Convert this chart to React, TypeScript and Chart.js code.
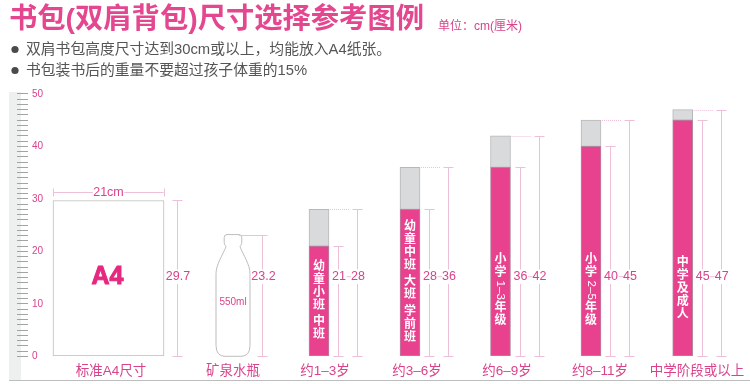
import React, { useEffect, useRef } from "react";
import { Chart, registerables, CategoryScale } from "chart.js";

const chartTitle = "书包(双肩背包)尺寸选择参考图例";
const unitNote = "单位：cm(厘米)";
const notes = ["双肩书包高度尺寸达到30cm或以上，均能放入A4纸张。", "书包装书后的重量不要超过孩子体重的15%"];
const categories = ["标准A4尺寸", "矿泉水瓶", "约1–3岁", "约3–6岁", "约6–9岁", "约8–11岁", "中学阶段或以上"];
const a4Height = 29.7;
const a4Width = 21;
const bottleHeight = 23.2;
const bottleVolume = "550ml";
const minHeights = [21, 28, 36, 40, 45];
const maxHeights = [28, 36, 42, 45, 47];
const barNotes = [
  [["幼", "童", "小", "班"], ["中", "班"]],
  [["幼", "童", "中", "班"], ["大", "班"], ["学", "前", "班"]],
  [["小", "学", "1–3", "年", "级"]],
  [["小", "学", "2–5", "年", "级"]],
  [["中", "学", "及", "成", "人"]],
];
const barNoteCentres = [10.6, 14.2, 12.6, 12.6, 12.9];

// uneven layout of the categories along the baseline (canvas pixels)
const markCentres = [108.5, 233, 319, 410, 500.5, 591, 682.7];
const labelCentres = [111, 233, 325, 417, 507, 600, 697];

const PINK = "#E8428F";
const TEXT_PINK = "#D9438C";
const LINE_PINK = "#EDBFD9";
const FONT = '"Liberation Sans","Noto Sans CJK SC",sans-serif';

class SlotScale extends CategoryScale {
  static id = "slot";
  static defaults = CategoryScale.defaults;
  getPixelForValue(value: any) {
    const i = typeof value === "number" ? value : (this as any).parse(value);
    return markCentres[i];
  }
  getPixelForTick(index: number) {
    return labelCentres[index];
  }
}

Chart.register(...registerables, SlotScale as any);

const annotate = {
  id: "annotate",
  beforeDraw(chart: any) {
    const { ctx } = chart;
    ctx.save();
    ctx.fillStyle = "#EEEFEF";
    ctx.fillRect(9, 92, 12, 288);
    ctx.fillStyle = "#BDBDBD";
    ctx.fillRect(9, 380, 741, 1);
    ctx.restore();
  },
  afterDraw(chart: any) {
    const { ctx, scales } = chart;
    const y = scales.y;
    const base = y.getPixelForValue(0);
    const line = (x0: number, y0: number, x1: number, y1: number) => {
      ctx.beginPath();
      ctx.moveTo(x0, y0);
      ctx.lineTo(x1, y1);
      ctx.stroke();
    };
    const bracket = (x: number, top: number) => {
      const c = Math.round(x) + 0.5;
      const t = Math.round(top) + 0.5;
      const b = Math.round(base) + 0.5;
      line(c, t, c, b);
      line(c - 5, t, c + 5, t);
      line(c - 5, b, c + 5, b);
    };
    const label = (text: string, x: number, yy: number, size = 12.5) => {
      ctx.font = `${size}px ${FONT}`;
      const w = ctx.measureText(text).width;
      ctx.fillStyle = "#fff";
      ctx.fillRect(x - w / 2 - 0.5, yy - size / 2 - 1, w + 1, size + 2);
      ctx.fillStyle = TEXT_PINK;
      ctx.fillText(text, x, yy);
    };

    ctx.save();
    ctx.textAlign = "left";
    ctx.textBaseline = "middle";
    ctx.fillStyle = TEXT_PINK;
    ctx.font = `12px ${FONT}`;
    ctx.fillText(unitNote, 438, 27);
    notes.forEach((n, i) => {
      const yy = 49.5 + i * 21;
      ctx.fillStyle = "#4A4A4A";
      ctx.beginPath();
      ctx.arc(15, yy, 3.6, 0, Math.PI * 2);
      ctx.fill();
      ctx.fillStyle = "#555";
      ctx.font = `14.8px ${FONT}`;
      ctx.fillText(n, 26, yy);
    });

    ctx.textAlign = "center";
    ctx.lineWidth = 1;
    const midY = 276.7;

    // A4 sheet
    const a4 = chart.getDatasetMeta(0).data[0];
    ctx.strokeStyle = LINE_PINK;
    const a4Half = (y.getPixelForValue(0) - y.getPixelForValue(a4Width)) / 2;
    const a4Y = 192.5;
    line(a4.x - a4Half, a4Y, a4.x + a4Half, a4Y);
    line(Math.round(a4.x - a4Half) + 0.5, a4Y - 4, Math.round(a4.x - a4Half) + 0.5, a4Y + 4);
    line(Math.round(a4.x + a4Half) + 0.5, a4Y - 4, Math.round(a4.x + a4Half) + 0.5, a4Y + 4);
    label(`${a4Width}cm`, a4.x, a4Y);
    bracket(a4.x + 68, a4.y);
    label(String(a4Height), a4.x + 69.5, midY);
    ctx.font = `bold 25px ${FONT}`;
    ctx.fillStyle = "#E6287F";
    ctx.strokeStyle = "#E6287F";
    ctx.fillText("A4", a4.x - 1, midY);
    ctx.strokeText("A4", a4.x - 1, midY);

    // bottle
    const bottle = chart.getDatasetMeta(1).data[1];
    const cx = bottle.x;
    const top = bottle.y;
    const bot = base;
    ctx.strokeStyle = "#BDBDBD";
    ctx.beginPath();
    ctx.moveTo(cx - 6, top);
    ctx.quadraticCurveTo(cx - 8.8, top, cx - 8.8, top + 3);
    ctx.lineTo(cx - 8.8, top + 8);
    ctx.quadraticCurveTo(cx - 8.8, top + 10, cx - 7, top + 12);
    ctx.bezierCurveTo(cx - 10, top + 20, cx - 17, top + 30, cx - 17, top + 39);
    ctx.lineTo(cx - 17, bot - 11);
    ctx.quadraticCurveTo(cx - 17, bot, cx - 8, bot);
    ctx.lineTo(cx + 8, bot);
    ctx.quadraticCurveTo(cx + 17, bot, cx + 17, bot - 11);
    ctx.lineTo(cx + 17, top + 39);
    ctx.bezierCurveTo(cx + 17, top + 30, cx + 10, top + 20, cx + 7, top + 12);
    ctx.quadraticCurveTo(cx + 8.8, top + 10, cx + 8.8, top + 8);
    ctx.lineTo(cx + 8.8, top + 3);
    ctx.quadraticCurveTo(cx + 8.8, top, cx + 6, top);
    ctx.closePath();
    ctx.stroke();
    ctx.strokeStyle = LINE_PINK;
    line(cx + 6, Math.round(top) + 0.5, cx + 28, Math.round(top) + 0.5);
    bracket(cx + 28.5, top);
    label(String(bottleHeight), cx + 30.5, midY);
    ctx.fillStyle = TEXT_PINK;
    ctx.font = `10px ${FONT}`;
    ctx.fillText(bottleVolume, cx, 302);

    // age-group bars
    const upperMeta = chart.getDatasetMeta(3).data;
    const lowerMeta = chart.getDatasetMeta(2).data;
    minHeights.forEach((min, k) => {
      const i = k + 2;
      const lo = lowerMeta[i];
      const up = upperMeta[i];
      const innerX = lo.x + 19;
      const outerX = lo.x + 38;
      ctx.strokeStyle = LINE_PINK;
      bracket(innerX, lo.y);
      bracket(outerX, up.y);
      ctx.setLineDash([1, 1]);
      const ty = Math.round(up.y) + 0.5;
      line(lo.x + 11, ty, outerX - 8, ty);
      ctx.setLineDash([]);
      label(String(min), innerX + 1, midY);
      label(String(maxHeights[k]), outerX + 1, midY);
      line(innerX + 8.5, midY, outerX - 6, midY);

      // vertical label inside the bar
      ctx.fillStyle = "#fff";
      ctx.font = `bold 12px ${FONT}`;
      const pitch = 13;
      const gap = 3.5;
      const groups = barNotes[k];
      const sizes = groups.map((g) =>
        g.map((t) => (t.length > 1 ? ctx.measureText(t).width + 2 : pitch))
      );
      const total =
        sizes.reduce((s, g) => s + g.reduce((a, b) => a + b, 0), 0) + gap * (groups.length - 1);
      let cursor = y.getPixelForValue(barNoteCentres[k]) - total / 2;
      groups.forEach((g, gi) => {
        g.forEach((t, ti) => {
          const h = sizes[gi][ti];
          const c = cursor + h / 2;
          if (t.length > 1) {
            ctx.save();
            ctx.font = `11.5px ${FONT}`;
            ctx.translate(lo.x, c);
            ctx.rotate(Math.PI / 2);
            ctx.fillText(t, 0, 0);
            ctx.restore();
          } else {
            ctx.fillText(t, lo.x, c);
          }
          cursor += h;
        });
        cursor += gap;
      });
    });
    ctx.restore();
  },
};

export default function App() {
  const ref = useRef<HTMLCanvasElement>(null);
  useEffect(() => {
    const pad = (vals: number[]) => [null, null, ...vals];
    const chart = new Chart(ref.current!, {
      type: "bar",
      data: {
        labels: categories,
        datasets: [
          {
            label: "A4",
            data: [a4Height, null, null, null, null, null, null],
            barThickness: 111,
            backgroundColor: "#fff",
            borderColor: "#BDBDBD",
            borderWidth: 1,
            borderSkipped: false,
          },
          {
            label: "瓶",
            data: [null, bottleHeight, null, null, null, null, null],
            barThickness: 34,
            backgroundColor: "rgba(0,0,0,0)",
            borderWidth: 0,
          },
          {
            label: "最小",
            data: pad(minHeights),
            barThickness: 20,
            backgroundColor: PINK,
            borderColor: "#B5869F",
            borderWidth: 1,
            borderSkipped: false,
          },
          {
            label: "最大",
            data: pad(maxHeights.map((m, i) => m - minHeights[i])),
            barThickness: 20,
            backgroundColor: "#D9DADB",
            borderColor: "#B8B8B8",
            borderWidth: 1,
            borderSkipped: false,
          },
        ],
      } as any,
      options: {
        responsive: false,
        animation: false,
        layout: { padding: { left: 9, right: 0, top: 0, bottom: 0 } },
        plugins: {
          legend: { display: false },
          tooltip: { enabled: false },
          title: {
            display: true,
            text: chartTitle,
            align: "start",
            color: "#E4468F",
            font: { family: FONT, size: 28.3, weight: "bold" },
            padding: { top: 3, bottom: 57 },
          },
        },
        scales: {
          x: {
            type: "slot",
            stacked: true,
            grid: { display: false, drawTicks: false },
            border: { display: false },
            afterFit: (s: any) => {
              s.height = 27.7;
            },
            ticks: {
              autoSkip: false,
              maxRotation: 0,
              minRotation: 0,
              padding: 7,
              color: TEXT_PINK,
              font: { family: FONT, size: 13.5 },
            },
          },
          y: {
            stacked: true,
            min: 0,
            max: 50,
            border: { display: false },
            grid: { drawOnChartArea: false, drawTicks: true, tickLength: 11, tickColor: "#A3A3A3" },
            ticks: {
              stepSize: 1,
              autoSkip: false,
              mirror: true,
              padding: 4,
              color: TEXT_PINK,
              font: { family: FONT, size: 10 },
              callback: (v: any) => (v % 10 === 0 ? String(v) : ""),
            },
          },
        },
      } as any,
      plugins: [annotate],
    });
    return () => chart.destroy();
  }, []);
  return (
    <canvas
      ref={ref}
      width={750}
      height={384}
      style={{ position: "absolute", left: 0, top: 0, width: 750, height: 384 }}
    />
  );
}
